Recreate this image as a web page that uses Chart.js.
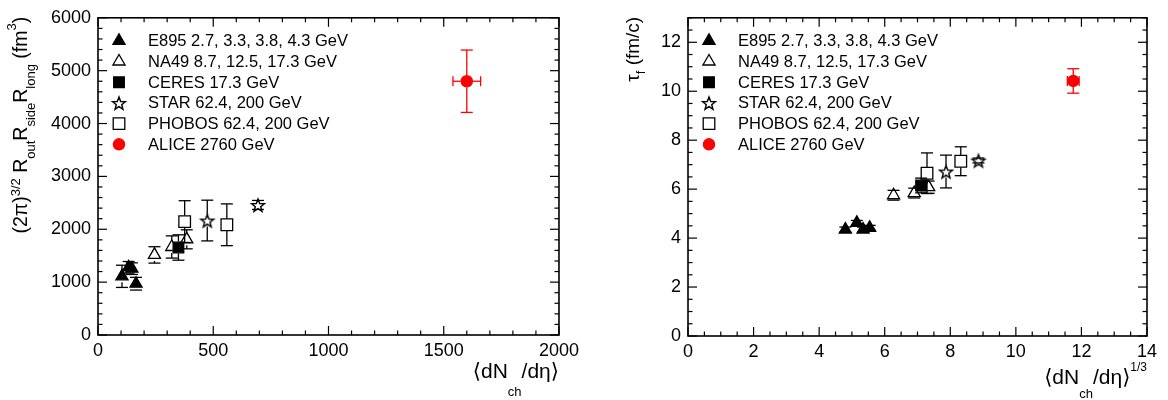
<!DOCTYPE html>
<html>
<head>
<meta charset="utf-8">
<script src="https://cdn.jsdelivr.net/npm/chart.js@4.4.0/dist/chart.umd.min.js"></script>
<style>
html, body { margin: 0; background: #fff; }
#wrap { position: relative; width: 1168px; height: 400px; }
canvas { position: absolute; top: 0; }
</style>
</head>
<body>
<div id="wrap">
	<canvas id="vol" width="584" height="400" style="left:0"></canvas>
	<canvas id="tau" width="584" height="400" style="left:584px"></canvas>
</div>
<script>
const FONT = '"Liberation Sans", "DejaVu Sans", sans-serif';

const seriesNames = [
	"E895 2.7, 3.3, 3.8, 4.3 GeV",
	"NA49 8.7, 12.5, 17.3 GeV",
	"CERES 17.3 GeV",
	"STAR 62.4, 200 GeV",
	"PHOBOS 62.4, 200 GeV",
	"ALICE 2760 GeV"
];

// left pad: <dNch/deta> vs (2pi)^3/2 Rout Rside Rlong in fm^3
const e895Mult = [104, 133, 147, 165];
const e895Vol = [1110, 1280, 1255, 970];
const e895VolErr = [210, 110, 110, 120];
const na49Mult = [245, 320, 385];
const na49Vol = [1515, 1665, 1810];
const na49VolErr = [155, 210, 180];
const ceresMult = [349];
const ceresVol = [1655];
const ceresVolErr = [240];
const starMult = [474, 694];
const starVol = [2165, 2460];
const starVolErr = [385, 85];
const phobosMult = [376, 559];
const phobosVol = [2145, 2085];
const phobosVolErr = [395, 395];
const aliceMult = [1600];
const aliceMultErr = [60];
const aliceVol = [4800];
const aliceVolErr = [590];

// right pad: <dNch/deta>^1/3 vs tau_f in fm/c
const e895Cbrt = [4.8, 5.15, 5.34, 5.54];
const e895Tau = [4.35, 4.62, 4.35, 4.42];
const e895TauErr = [0.1, 0.1, 0.1, 0.1];
const na49Cbrt = [6.27, 6.9, 7.34];
const na49Tau = [5.75, 5.84, 6.08];
const na49TauErr = [0.2, 0.2, 0.25];
const ceresCbrt = [7.11];
const ceresTau = [6.15];
const ceresTauErr = [0.3];
const starCbrt = [7.87, 8.86];
const starTau = [6.72, 7.17];
const starTauErr = [0.67, 0.1];
const phobosCbrt = [7.29, 8.32];
const phobosTau = [6.65, 7.14];
const phobosTauErr = [0.83, 0.59];
const aliceCbrt = [11.75];
const aliceCbrtErr = [0.18];
const aliceTau = [10.42];
const aliceTauErr = [0.5];

function pts(xs, ys, yerr, xerr) {
	return xs.map((x, i) => ({ x, y: ys[i], yerr: yerr ? yerr[i] : 0, xerr: xerr ? xerr[i] : 0 }));
}

// open five-pointed star, ROOT style
function starImage(r) {
	const c = document.createElement("canvas");
	const s = Math.ceil(2 * r + 4);
	c.width = c.height = s;
	const g = c.getContext("2d");
	g.translate(s / 2, s / 2 + 0.8);
	g.beginPath();
	for (let i = 0; i < 10; i++) {
		const rr = i % 2 ? r * 0.42 : r;
		const a = -Math.PI / 2 + i * Math.PI / 5;
		g.lineTo(rr * Math.cos(a), rr * Math.sin(a));
	}
	g.closePath();
	g.lineWidth = 1.4;
	g.strokeStyle = "#000";
	g.stroke();
	return c;
}

const markers = [
	{ pointStyle: "triangle", pointRadius: 7, pointBackgroundColor: "#000", pointBorderColor: "#000" },
	{ pointStyle: "triangle", pointRadius: 7, pointBackgroundColor: "rgba(0,0,0,0)", pointBorderColor: "#000" },
	{ pointStyle: "rect", pointRadius: 7.5, pointBackgroundColor: "#000", pointBorderColor: "#000" },
	{ pointStyle: starImage(6.8), pointRadius: 7, pointBackgroundColor: "rgba(0,0,0,0)", pointBorderColor: "#000" },
	{ pointStyle: "rect", pointRadius: 8.2, pointBackgroundColor: "rgba(0,0,0,0)", pointBorderColor: "#000" },
	{ pointStyle: "circle", pointRadius: 5.6, pointBackgroundColor: "#ff0000", pointBorderColor: "#ff0000" }
];

function buildDatasets(series) {
	return series.map((data, i) => Object.assign({
		label: seriesNames[i],
		data: data,
		showLine: false,
		pointBorderWidth: 1.3,
		pointHoverRadius: markers[i].pointRadius
	}, markers[i]));
}

// vertical / horizontal error bars with caps, kept out of the marker
const errorBars = {
	id: "errorBars",
	beforeDatasetsDraw(chart) {
		const { ctx, scales: { x, y } } = chart;
		const gap = 6, cap = 6;
		const seg = (x1, y1, x2, y2) => { ctx.beginPath(); ctx.moveTo(x1, y1); ctx.lineTo(x2, y2); ctx.stroke(); };
		chart.data.datasets.forEach(ds => {
			ctx.save();
			ctx.strokeStyle = ds.pointBorderColor;
			ctx.lineWidth = 1.3;
			ds.data.forEach(p => {
				const px = x.getPixelForValue(p.x), py = y.getPixelForValue(p.y);
				if (p.yerr) {
					const hi = y.getPixelForValue(p.y + p.yerr), lo = y.getPixelForValue(p.y - p.yerr);
					if (py - hi > gap) seg(px, py - gap, px, hi);
					if (lo - py > gap) seg(px, py + gap, px, lo);
					seg(px - cap, hi, px + cap, hi);
					seg(px - cap, lo, px + cap, lo);
				}
				if (p.xerr) {
					const l = x.getPixelForValue(p.x - p.xerr), r = x.getPixelForValue(p.x + p.xerr);
					if (px - l > gap) seg(l, py, px - gap, py);
					if (r - px > gap) seg(px + gap, py, r, py);
					seg(l, py - 5, l, py + 5);
					seg(r, py - 5, r, py + 5);
				}
			});
			ctx.restore();
		});
	}
};

// box around the pad with inward ticks on all four sides
const frame = {
	id: "frame",
	afterDraw(chart, args, opts) {
		const { ctx, chartArea: a, scales: { x, y } } = chart;
		const seg = (x1, y1, x2, y2) => { ctx.beginPath(); ctx.moveTo(x1, y1); ctx.lineTo(x2, y2); ctx.stroke(); };
		const walk = (min, max, minor, major, fn) => {
			const n = Math.round((max - min) / minor);
			for (let i = 0; i <= n; i++) {
				const v = min + i * minor;
				const isMajor = Math.abs(v / major - Math.round(v / major)) < 1e-6;
				fn(v, isMajor ? 9 : 4.5);
			}
		};
		ctx.save();
		ctx.strokeStyle = "#000";
		ctx.lineWidth = 1.2;
		walk(x.min, x.max, opts.xMinor, opts.xMajor, (v, len) => {
			const p = x.getPixelForValue(v);
			seg(p, a.bottom, p, a.bottom - len);
			seg(p, a.top, p, a.top + len);
		});
		walk(y.min, y.max, opts.yMinor, opts.yMajor, (v, len) => {
			const p = y.getPixelForValue(v);
			seg(a.left, p, a.left + len, p);
			seg(a.right, p, a.right - len, p);
		});
		ctx.lineWidth = 1.6;
		ctx.strokeRect(a.left, a.top, a.right - a.left, a.bottom - a.top);
		ctx.restore();
	}
};

// legend in the upper left corner of the pad
const legendBox = {
	id: "legendBox",
	afterDraw(chart) {
		const { ctx, chartArea: a } = chart;
		ctx.save();
		chart.data.datasets.forEach((ds, i) => {
			const yy = a.top + 23 + i * 20.7;
			ctx.fillStyle = ds.pointBackgroundColor;
			ctx.strokeStyle = ds.pointBorderColor;
			ctx.lineWidth = 1.3;
			Chart.helpers.drawPoint(ctx, { pointStyle: ds.pointStyle, radius: ds.pointRadius, rotation: 0, borderWidth: 1.3 }, a.left + 21, yy);
			ctx.fillStyle = "#000";
			ctx.font = "16.5px " + FONT;
			ctx.textBaseline = "middle";
			ctx.textAlign = "left";
			ctx.fillText(ds.label, a.left + 50, yy + 1);
		});
		ctx.restore();
	}
};

// axis titles with sub- and superscripts, right aligned to the axis end
function drawRich(ctx, parts, xEnd, y) {
	let w = 0;
	parts.forEach(p => { ctx.font = p.size + "px " + FONT; w += ctx.measureText(p.t).width; });
	let x = xEnd - w;
	parts.forEach(p => {
		ctx.font = p.size + "px " + FONT;
		ctx.fillText(p.t, x, y + (p.dy || 0));
		x += ctx.measureText(p.t).width;
	});
}

const axisTitles = {
	id: "axisTitles",
	afterDraw(chart, args, opts) {
		const { ctx, chartArea: a } = chart;
		ctx.save();
		ctx.fillStyle = "#000";
		ctx.textBaseline = "alphabetic";
		ctx.textAlign = "left";
		drawRich(ctx, opts.x, a.right, opts.xBase);
		ctx.translate(opts.yBase, a.top - 1);
		ctx.rotate(-Math.PI / 2);
		drawRich(ctx, opts.y, 0, 0);
		ctx.restore();
	}
};

function makeChart(id, series, axes) {
	return new Chart(document.getElementById(id), {
		type: "scatter",
		data: { datasets: buildDatasets(series) },
		plugins: [errorBars, frame, legendBox, axisTitles],
		options: {
			responsive: false,
			animation: false,
			events: [],
			layout: { padding: { left: 0, top: axes.top, right: 21, bottom: 0 } },
			scales: {
				x: {
					type: "linear",
					min: axes.xMin, max: axes.xMax,
					grid: { display: false, drawTicks: false },
					border: { display: false },
					ticks: {
						stepSize: axes.xMajor, autoSkip: false, maxRotation: 0, padding: 5,
						format: { useGrouping: false },
						color: "#000", font: { size: 18, family: FONT }
					},
					afterFit: s => { s.height = axes.xHeight; }
				},
				y: {
					type: "linear",
					min: axes.yMin, max: axes.yMax,
					grid: { display: false, drawTicks: false },
					border: { display: false },
					ticks: {
						stepSize: axes.yMajor, padding: 7,
						format: { useGrouping: false },
						color: "#000", font: { size: 18, family: FONT }
					},
					afterBuildTicks: s => { s.ticks = s.ticks.filter(t => Math.abs(t.value / axes.yMajor - Math.round(t.value / axes.yMajor)) < 1e-6); },
					afterFit: s => { s.width = axes.yWidth; }
				}
			},
			plugins: {
				legend: { display: false },
				tooltip: { enabled: false },
				frame: { xMajor: axes.xMajor, xMinor: axes.xMinor, yMajor: axes.yMajor, yMinor: axes.yMinor },
				axisTitles: axes.titles
			}
		}
	});
}

makeChart("vol", [
	pts(e895Mult, e895Vol, e895VolErr),
	pts(na49Mult, na49Vol, na49VolErr),
	pts(ceresMult, ceresVol, ceresVolErr),
	pts(starMult, starVol, starVolErr),
	pts(phobosMult, phobosVol, phobosVolErr),
	pts(aliceMult, aliceVol, aliceVolErr, aliceMultErr)
], {
	xMin: 0, xMax: 2000, xMajor: 500, xMinor: 100,
	yMin: 0, yMax: 6000, yMajor: 1000, yMinor: 200,
	top: 11, xHeight: 65, yWidth: 98,
	titles: {
		xBase: 378,
		x: [
			{ t: "\u27E8dN", size: 21 }, { t: "ch", size: 13, dy: 18 }, { t: "/d\u03B7\u27E9", size: 21 }
		],
		yBase: 27,
		y: [
			{ t: "(2\u03C0)", size: 19.5 }, { t: "3/2", size: 13, dy: -7 },
			{ t: " R", size: 19.5 }, { t: "out", size: 13, dy: 8 },
			{ t: "R", size: 19.5 }, { t: "side", size: 13, dy: 8 },
			{ t: "R", size: 19.5 }, { t: "long", size: 13, dy: 8 },
			{ t: " (fm", size: 19.5 }, { t: "3", size: 13, dy: -11 }, { t: ")", size: 19.5 }
		]
	}
});

makeChart("tau", [
	pts(e895Cbrt, e895Tau, e895TauErr),
	pts(na49Cbrt, na49Tau, na49TauErr),
	pts(ceresCbrt, ceresTau, ceresTauErr),
	pts(starCbrt, starTau, starTauErr),
	pts(phobosCbrt, phobosTau, phobosTauErr),
	pts(aliceCbrt, aliceTau, aliceTauErr, aliceCbrtErr)
], {
	xMin: 0, xMax: 14, xMajor: 2, xMinor: 0.5,
	yMin: 0, yMax: 13, yMajor: 2, yMinor: 0.5,
	top: 10, xHeight: 64, yWidth: 104,
	titles: {
		xBase: 384,
		x: [
			{ t: "\u27E8dN", size: 21 }, { t: "ch", size: 13, dy: 14 }, { t: "/d\u03B7\u27E9", size: 21 },
			{ t: "1/3", size: 12, dy: -13 }
		],
		yBase: 55,
		y: [
			{ t: "\u03C4", size: 19 }, { t: "f", size: 13, dy: 6 }, { t: " (fm/c)", size: 19 }
		]
	}
});
</script>
</body>
</html>
